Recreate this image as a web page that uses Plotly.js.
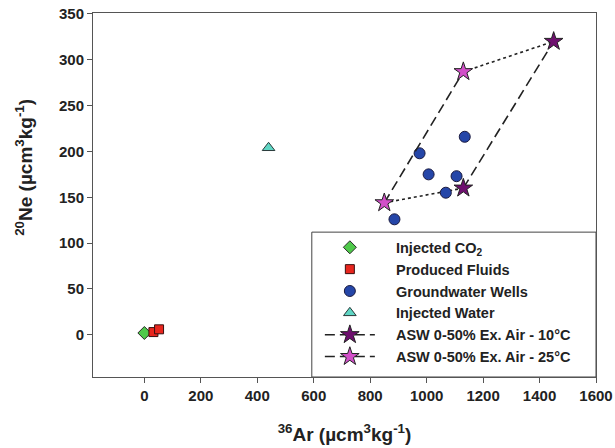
<!DOCTYPE html>
<html><head><meta charset="utf-8">
<script src="https://cdn.plot.ly/plotly-3.0.1.min.js"></script>
<style>html,body{margin:0;padding:0;background:#fff}#c{width:615px;height:448px}</style>
</head><body><div id="c"></div>
<script>
// Data
const co2X = [0];
const co2Y = [2];
const fluidsX = [32, 52];
const fluidsY = [3, 6];
const wellsX = [886, 975, 1007, 1068, 1106, 1135];
const wellsY = [126, 198, 175, 155, 173, 216];
const waterX = [440];
const waterY = [204];
const asw10X = [1130, 1450];   // 0% -> 50% excess air, 10°C
const asw10Y = [160, 320];
const asw25X = [850, 1130];    // 0% -> 50% excess air, 25°C
const asw25Y = [144, 287];
const names = ['Injected CO<sub>2</sub>', 'Produced Fluids', 'Groundwater Wells', 'Injected Water',
  'ASW 0-50% Ex. Air - 10°C', 'ASW 0-50% Ex. Air - 25°C'];
const xTicks = [0, 200, 400, 600, 800, 1000, 1200, 1400, 1600];
const yTicks = [0, 50, 100, 150, 200, 250, 300, 350];
const xTitle = '<sup>36</sup>Ar (µcm<sup>3</sup>kg<sup>-1</sup>)';
const yTitle = '<sup>20</sup>Ne (µcm<sup>3</sup>kg<sup>-1</sup>)';

const F = 'Liberation Sans, Arial, sans-serif';
const pad = '\u00a0\u00a0\u00a0\u00a0';
const traces = [
  // dotted connectors: 0% of both temperatures, 50% of both temperatures
  {x: [asw25X[0], asw10X[0]], y: [asw25Y[0], asw10Y[0]], mode: 'lines', showlegend: false, hoverinfo: 'skip',
   line: {color: '#222', width: 1.6, dash: 'dot'}},
  {x: [asw25X[1], asw10X[1]], y: [asw25Y[1], asw10Y[1]], mode: 'lines', showlegend: false, hoverinfo: 'skip',
   line: {color: '#222', width: 1.6, dash: 'dot'}},
  {x: co2X, y: co2Y, name: pad + names[0], mode: 'markers', type: 'scatter',
   marker: {symbol: 'diamond', size: 10, color: '#4fc94a', line: {color: '#2a2a2a', width: 1}}},
  {x: fluidsX, y: fluidsY, name: pad + names[1], mode: 'markers',
   marker: {symbol: 'square', size: 9, color: '#e8261e', line: {color: '#3a1010', width: 1}}},
  {x: wellsX, y: wellsY, name: pad + names[2], mode: 'markers',
   marker: {symbol: 'circle', size: 11, color: '#2546a8', line: {color: '#1a1a40', width: 1}}},
  {x: waterX, y: waterY, name: pad + names[3], mode: 'markers',
   marker: {symbol: 'triangle-up', size: 11, color: '#5fd6c4', line: {color: '#2a3a3a', width: 1}}},
  {x: asw10X, y: asw10Y, name: pad + names[4], mode: 'lines+markers',
   line: {color: '#222', width: 1.6, dash: '10px,5px'},
   marker: {symbol: 'star', size: 14, color: '#6e0f6e', line: {color: '#222', width: 1}}},
  {x: asw25X, y: asw25Y, name: pad + names[5], mode: 'lines+markers',
   line: {color: '#222', width: 1.6, dash: '10px,5px'},
   marker: {symbol: 'star', size: 14, color: '#d24fc9', line: {color: '#222', width: 1}}}
];

const axisCommon = {
  showgrid: false, zeroline: false, showline: true, mirror: true,
  linecolor: '#555', linewidth: 1, ticks: 'outside', ticklen: 5, tickcolor: '#555', tickwidth: 1,
  tickfont: {family: F, size: 15, color: '#222', weight: 'bold'}
};

const layout = {
  width: 615, height: 448,
  margin: {l: 93, r: 19, t: 13, b: 71},
  paper_bgcolor: '#fff', plot_bgcolor: '#fff',
  font: {family: F, color: '#222'},
  xaxis: Object.assign({}, axisCommon, {
    range: [-182, 1600], tickvals: xTicks, ticktext: xTicks.map(String),
    title: {text: xTitle, font: {family: F, size: 19, weight: 'bold', color: '#222'}, standoff: 24}
  }),
  yaxis: Object.assign({}, axisCommon, {
    range: [-46, 351], tickvals: yTicks, ticktext: yTicks.map(String)
  }),
  annotations: [
    {text: yTitle, xref: 'paper', yref: 'paper', x: -0.137, y: 0.575, xanchor: 'center', yanchor: 'middle',
     textangle: -90, showarrow: false, font: {family: F, size: 19, weight: 'bold', color: '#222'}}
  ],
  shapes: [
    {type: 'rect', xref: 'paper', yref: 'paper', x0: 0.435, x1: 1, y0: 0, y1: 0.398,
     fillcolor: '#fff', line: {color: '#444', width: 1}, layer: 'below'}
  ],
  legend: {
    x: 0.451, xanchor: 'left', y: 0.01, yanchor: 'bottom',
    bgcolor: 'rgba(0,0,0,0)', borderwidth: 0,
    font: {family: F, size: 14.5, weight: 'bold', color: '#222'},
    itemwidth: 50, tracegroupgap: 0
  },
  showlegend: true
};

Plotly.newPlot('c', traces, layout, {displayModeBar: false, staticPlot: true});
</script>
</body></html>
